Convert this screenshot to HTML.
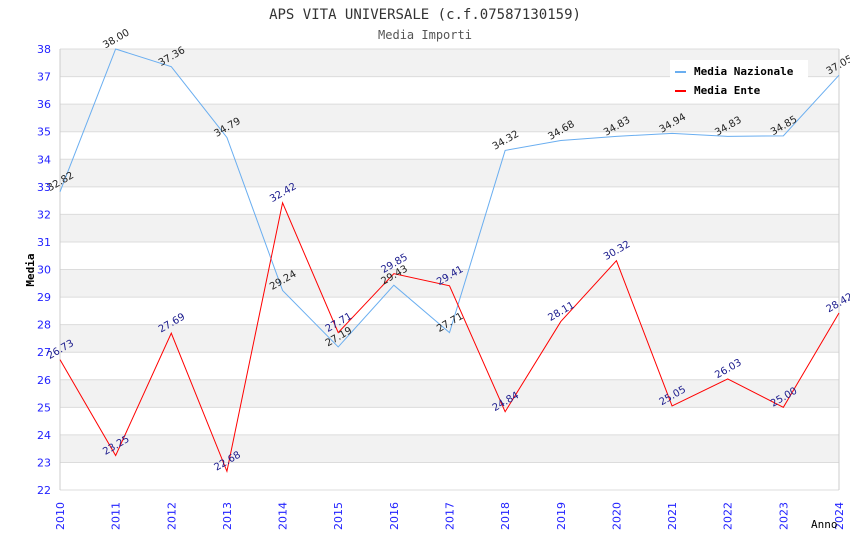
<!DOCTYPE html>
<html><head><meta charset="utf-8"><style>
body{margin:0;background:#fff}
svg text{font-family:"DejaVu Sans","Liberation Sans",sans-serif}
</style></head><body>
<svg id="c" width="850" height="550" xmlns="http://www.w3.org/2000/svg">
<text x="425" y="19" text-anchor="middle" font-size="14" fill="#333" style="font-family:'DejaVu Sans Mono',monospace">APS VITA UNIVERSALE (c.f.07587130159)</text>
<text x="425" y="39" text-anchor="middle" font-size="12" fill="#555" style="font-family:'DejaVu Sans Mono',monospace">Media Importi</text>
<g id="bands"></g><g id="grid"></g><g id="axes"></g><g id="lines"></g><g id="labels"></g>
<text x="34" y="270" text-anchor="middle" font-size="11" font-weight="bold" fill="#000" transform="rotate(-90 34 270)" style="font-family:'DejaVu Sans Mono',monospace">Media</text>
<text x="811" y="528" font-size="11" fill="#000" style="font-family:'DejaVu Sans Mono',monospace">Anno</text>
<g>
<rect x="670" y="60" width="138" height="42" fill="#fff"/>
<g><rect x="675" y="71" width="11" height="2" fill="#6aaef0"/><text x="694" y="75" font-size="11" font-weight="bold" fill="#000" style="font-family:'DejaVu Sans Mono',monospace">Media Nazionale</text></g>
<g><rect x="675" y="90" width="11" height="2" fill="#f00"/><text x="694" y="94" font-size="11" font-weight="bold" fill="#000" style="font-family:'DejaVu Sans Mono',monospace">Media Ente</text></g>
</g>
</svg>
<script>
const years=[2010,2011,2012,2013,2014,2015,2016,2017,2018,2019,2020,2021,2022,2023,2024];
const nazionale=[32.82,38.00,37.36,34.79,29.24,27.19,29.43,27.71,34.32,34.68,34.83,34.94,34.83,34.85,37.05];
const ente=[26.73,23.25,27.69,22.68,32.42,27.71,29.85,29.41,24.84,28.11,30.32,25.05,26.03,25.00,28.42];
const yTicks=[22,23,24,25,26,27,28,29,30,31,32,33,34,35,36,37,38];
const NS='http://www.w3.org/2000/svg';
const X0=60,X1=839,Y0=490,Y1=49,yMin=22,yMax=38;
const xs=i=>X0+(X1-X0)*i/(years.length-1);
const ys=v=>Y0-(v-yMin)/(yMax-yMin)*(Y0-Y1);
function mk(p,tag,a){const e=document.createElementNS(NS,tag);for(const k in a)e.setAttribute(k,a[k]);p.appendChild(e);return e;}
const bands=document.getElementById('bands'),grid=document.getElementById('grid'),axes=document.getElementById('axes'),lines=document.getElementById('lines'),labels=document.getElementById('labels');
for(let i=0;i<yTicks.length-1;i++){const v=yTicks[i];if(v%2===1){const r=mk(bands,'rect',{x:X0,y:ys(v+1),width:X1-X0,height:ys(v)-ys(v+1),fill:'#f2f2f2'});

}}
yTicks.forEach(v=>{const l=mk(grid,'line',{x1:X0,x2:X1,y1:ys(v),y2:ys(v),stroke:'#dcdcdc'});


const t=mk(axes,'text',{x:51,y:ys(v)+4,'text-anchor':'end','font-size':'11',fill:'#22f'});t.textContent=v;

});
mk(axes,'line',{x1:X0,x2:X0,y1:Y1,y2:Y0,stroke:'#ccc'});
mk(axes,'line',{x1:X1,x2:X1,y1:Y1,y2:Y0,stroke:'#ccc'});
years.forEach((y,i)=>{const x=xs(i)+4;const t=mk(axes,'text',{x:x,y:530,'font-size':'11',fill:'#22f',transform:`rotate(-90 ${x} 530)`});t.textContent=y;

});
function series(data,color,tcol,name){
const p=mk(lines,'polyline',{points:data.map((v,i)=>xs(i)+','+ys(v)).join(' '),fill:'none',stroke:color,'stroke-width':'1'});


data.forEach((v,i)=>{const x=xs(i),y=ys(v)-11;const t=mk(labels,'text',{x:x,y:y+4,'text-anchor':'middle','font-size':'10',fill:tcol,transform:`rotate(-30 ${x} ${y})`});t.textContent=v.toFixed(2);

});}
series(nazionale,'#6aaef0','#222','nazionale');
series(ente,'#f00','#1a1a8c','ente');
</script>
</body></html>
